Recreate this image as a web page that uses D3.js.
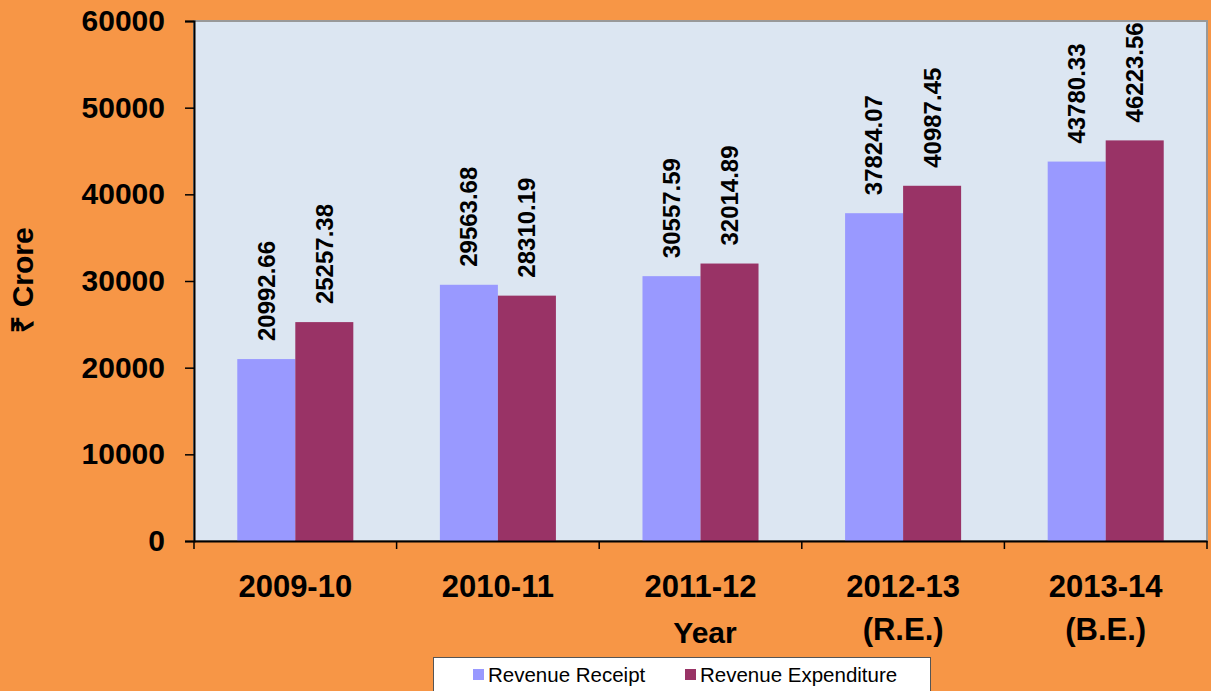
<!DOCTYPE html>
<html>
<head>
<meta charset="utf-8">
<script src="https://cdn.jsdelivr.net/npm/d3@7"></script>
<style>
  html, body { margin: 0; padding: 0; background: #F79646; }
  svg { display: block; font-family: "Liberation Sans", Arial, sans-serif; }
</style>
</head>
<body>
<svg id="chart" width="1211" height="691"></svg>
<script>
const categories = [["2009-10"], ["2010-11"], ["2011-12"], ["2012-13", "(R.E.)"], ["2013-14", "(B.E.)"]];
const seriesNames = ["Revenue Receipt", "Revenue Expenditure"];
const revenueReceipt = [20992.66, 29563.68, 30557.59, 37824.07, 43780.33];
const revenueExpenditure = [25257.38, 28310.19, 32014.89, 40987.45, 46223.56];
const yTicks = [0, 10000, 20000, 30000, 40000, 50000, 60000];
const colors = ["#9999FF", "#993366"];

const svg = d3.select("#chart");
const W = 1211, H = 691;
const m = { left: 194, right: 4, top: 21, bottom: 150 };
const x0 = m.left, x1 = W - m.right, y0 = H - m.bottom, y1 = m.top;

svg.append("rect").attr("width", W).attr("height", H).attr("fill", "#F79646");

const catKeys = categories.map(c => c.join(" "));
const x = d3.scaleBand().domain(catKeys).range([x0, x1]).paddingInner(0).paddingOuter(0);
const xs = d3.scaleBand().domain(seriesNames).range([0, x.bandwidth()]).paddingInner(0).paddingOuter(0.746);
const y = d3.scaleLinear().domain([0, 60000]).range([y0, y1]);

// plot area
svg.append("rect").attr("x", x0).attr("y", y1).attr("width", x1 - x0).attr("height", y0 - y1)
  .attr("fill", "#DCE6F2").attr("stroke", "#999").attr("stroke-width", 2);

const data = categories.map((c, i) => ({ key: catKeys[i], vals: [revenueReceipt[i], revenueExpenditure[i]] }));

const g = svg.append("g");
data.forEach(d => {
  d.vals.forEach((v, j) => {
    const bx = x(d.key) + xs(seriesNames[j]);
    g.append("rect").attr("x", bx).attr("y", y(v)).attr("width", xs.bandwidth()).attr("height", y(0) - y(v))
      .attr("fill", colors[j]);
    const cx = bx + xs.bandwidth() / 2, cy = y(v) - 18;
    g.append("text").attr("transform", `translate(${cx},${cy}) rotate(-90)`)
      .attr("dy", "0.35em").attr("text-anchor", "start")
      .attr("font-size", 24).attr("font-weight", "bold").attr("fill", "#000")
      .text(d3.format(".2f")(v));
  });
});

// y axis
const yAxis = d3.axisLeft(y).tickValues(yTicks).tickSize(9).tickPadding(20).tickFormat(d3.format("d"));
const ya = svg.append("g").attr("transform", `translate(${x0},0)`).call(yAxis);
ya.selectAll("text").attr("font-size", 30).attr("font-weight", "bold").attr("fill", "#000")
  .attr("font-family", "Liberation Sans, Arial, sans-serif");
ya.selectAll("line").attr("stroke", "#000").attr("stroke-width", 1.5);
ya.select(".domain").attr("stroke", "#000").attr("stroke-width", 2);

// x axis
const xAxis = d3.axisBottom(x).tickSize(0).tickFormat(() => "");
const xa = svg.append("g").attr("transform", `translate(0,${y0})`).call(xAxis);
xa.select(".domain").attr("stroke", "#000").attr("stroke-width", 2);
const boundaries = catKeys.map(k => x(k)).concat([x1]);
xa.selectAll("line.sep").data(boundaries).enter().append("line").attr("class", "sep")
  .attr("x1", d => d).attr("x2", d => d).attr("y1", 0).attr("y2", 8)
  .attr("stroke", "#000").attr("stroke-width", 1.5);

categories.forEach((c, i) => {
  const t = svg.append("text").attr("x", x(catKeys[i]) + x.bandwidth() / 2).attr("y", 597)
    .attr("text-anchor", "middle").attr("font-size", 31).attr("font-weight", "bold").attr("fill", "#000");
  c.forEach((line, li) => {
    t.append("tspan").attr("x", x(catKeys[i]) + x.bandwidth() / 2).attr("y", 597 + li * 43).text(line);
  });
});

// axis titles
svg.append("text").attr("x", 705).attr("y", 643).attr("text-anchor", "middle")
  .attr("font-size", 30).attr("font-weight", "bold").attr("fill", "#000").text("Year");
svg.append("text").attr("transform", "translate(33,280) rotate(-90)").attr("text-anchor", "middle")
  .attr("font-size", 30).attr("font-weight", "bold").attr("fill", "#000").text("₹ Crore");

// legend
const lg = svg.append("g");
lg.append("rect").attr("x", 433.5).attr("y", 657.5).attr("width", 497).attr("height", 40)
  .attr("fill", "#fff").attr("stroke", "#555").attr("stroke-width", 1);
const legX = [473, 685];
seriesNames.forEach((s, j) => {
  lg.append("rect").attr("x", legX[j]).attr("y", 669).attr("width", 11).attr("height", 11).attr("fill", colors[j]);
  lg.append("text").attr("x", legX[j] + 15).attr("y", 682).attr("font-size", 20.5).attr("fill", "#000").text(s);
});
</script>
</body>
</html>
